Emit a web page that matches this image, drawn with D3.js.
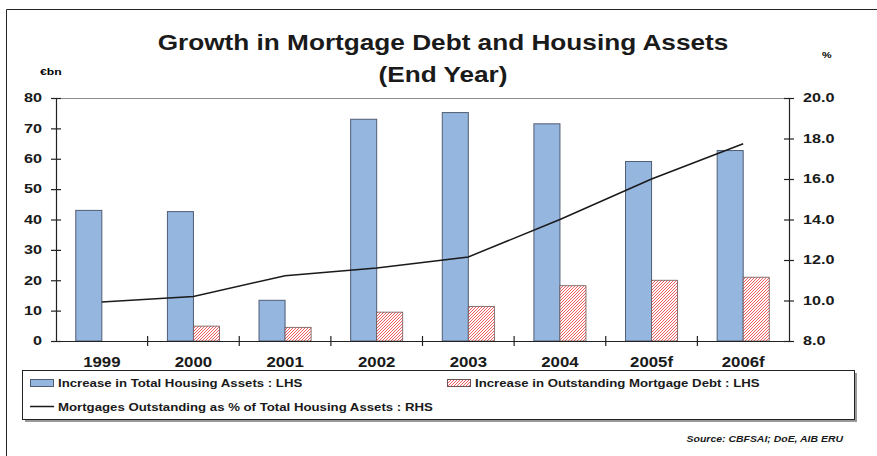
<!DOCTYPE html>
<html>
<head>
<meta charset="utf-8">
<script src="https://cdn.jsdelivr.net/npm/d3@7"></script>
<style>
  body { margin: 0; background: #fff; }
  svg { font-family: "Liberation Sans", Arial, sans-serif; font-weight: bold; }
</style>
</head>
<body>
<svg id="chart" width="877" height="456"></svg>
<script>
// chart data
var years = ['1999', '2000', '2001', '2002', '2003', '2004', '2005f', '2006f'];
var housingAssets = [43.0, 42.6, 13.4, 73.0, 75.2, 71.5, 59.1, 62.7];
var mortgageDebt = [null, 4.9, 4.5, 9.5, 11.4, 18.2, 20.0, 21.0];
var mortgageShare = [9.93, 10.2, 11.22, 11.6, 12.15, 14.0, 16.0, 17.74];
var leftTicks = [0, 10, 20, 30, 40, 50, 60, 70, 80];
var rightTicks = [8, 10, 12, 14, 16, 18, 20];

// layout
var plot = {left: 56, right: 789, top: 98, bottom: 341};

var svg = d3.select('#chart');

// stretch text horizontally like the original image
function stretch(sel, k) {
  sel.each(function() {
    var w = this.getComputedTextLength();
    this.setAttribute('textLength', w * k);
    this.setAttribute('lengthAdjust', 'spacingAndGlyphs');
  });
}

// hatch pattern for the mortgage debt bars
var defs = svg.append('defs');
var pat = defs.append('pattern')
  .attr('id', 'hatch')
  .attr('patternUnits', 'userSpaceOnUse')
  .attr('width', 3)
  .attr('height', 3);
pat.append('rect').attr('width', 3).attr('height', 3).attr('fill', '#fff');
pat.append('path')
  .attr('d', 'M-1,1 l2,-2 M0,3 l3,-3 M2,4 l2,-2')
  .attr('stroke', '#ef4a4a')
  .attr('stroke-width', 0.9);

// outer frame (cut off at right and bottom)
svg.append('path')
  .attr('d', 'M6.5,460 V9.5 H880')
  .attr('fill', 'none')
  .attr('stroke', '#222')
  .attr('stroke-width', 1);

// scales
var x = d3.scaleBand().domain(years).range([plot.left, plot.right]);
var sub = d3.scaleBand().domain(['assets', 'debt']).range([0, x.bandwidth()]).paddingOuter(0.76);
var y = d3.scaleLinear().domain([0, 80]).range([plot.bottom, plot.top]);
var y2 = d3.scaleLinear().domain([8, 20]).range([plot.bottom, plot.top]);

// title
svg.append('text')
  .attr('x', 443).attr('y', 50)
  .attr('text-anchor', 'middle')
  .style('font-size', '22px')
  .style('fill', '#1a1a1a')
  .text('Growth in Mortgage Debt and Housing Assets')
  .call(stretch, 1.19);
svg.append('text')
  .attr('x', 443).attr('y', 82)
  .attr('text-anchor', 'middle')
  .style('font-size', '22px')
  .style('fill', '#1a1a1a')
  .text('(End Year)')
  .call(stretch, 1.19);

// unit labels
svg.append('text')
  .attr('x', 40).attr('y', 75)
  .style('font-size', '9px')
  .text('€bn')
  .call(stretch, 1.35);
svg.append('text')
  .attr('x', 822).attr('y', 58)
  .style('font-size', '9px')
  .text('%')
  .call(stretch, 1.2);

// top border of plot area
svg.append('line')
  .attr('x1', plot.left).attr('x2', plot.right)
  .attr('y1', plot.top + 0.5).attr('y2', plot.top + 0.5)
  .attr('stroke', '#8c8c8c');

// bars: increase in total housing assets
svg.append('g').selectAll('rect')
  .data(years)
  .enter()
  .append('rect')
    .attr('x', function(d) { return x(d) + sub('assets'); })
    .attr('y', function(d, i) { return y(housingAssets[i]); })
    .attr('width', sub.bandwidth())
    .attr('height', function(d, i) { return y(0) - y(housingAssets[i]); })
    .attr('fill', '#95b6df')
    .attr('stroke', '#4f5d74')
    .attr('stroke-width', 1);

// bars: increase in mortgage debt
svg.append('g').selectAll('rect')
  .data(years.filter(function(d, i) { return mortgageDebt[i] != null; }))
  .enter()
  .append('rect')
    .attr('x', function(d) { return x(d) + sub('debt'); })
    .attr('y', function(d) { return y(mortgageDebt[years.indexOf(d)]); })
    .attr('width', sub.bandwidth())
    .attr('height', function(d) { return y(0) - y(mortgageDebt[years.indexOf(d)]); })
    .attr('fill', 'url(#hatch)')
    .attr('stroke', '#6b5555')
    .attr('stroke-width', 0.8);

// axes
var left = svg.append('g')
  .attr('transform', 'translate(' + plot.left + ',0)')
  .call(d3.axisLeft(y).tickValues(leftTicks).tickSize(5).tickPadding(9).tickFormat(d3.format('d')));
var right = svg.append('g')
  .attr('transform', 'translate(' + plot.right + ',0)')
  .call(d3.axisRight(y2).tickValues(rightTicks).tickSize(5).tickPadding(9).tickFormat(d3.format('.1f')));
var bottom = svg.append('g')
  .attr('transform', 'translate(0,' + plot.bottom + ')')
  .call(d3.axisBottom(x).tickSize(0).tickPadding(16));

[left, right, bottom].forEach(function(g) {
  g.select('.domain').attr('stroke', '#222').attr('stroke-width', 1.2);
  g.selectAll('.tick line').attr('stroke', '#222').attr('stroke-width', 1.2);
  g.selectAll('text').attr('fill', '#1a1a1a').style('font-family', null);
});
left.selectAll('.tick line').attr('x2', 5).attr('x1', -5);
right.selectAll('.tick line').attr('x1', -5).attr('x2', 5);
left.selectAll('text').style('font-size', '12px').call(stretch, 1.35);
right.selectAll('text').style('font-size', '12px').call(stretch, 1.35);
bottom.selectAll('text').style('font-size', '14px').call(stretch, 1.2);

// category boundary ticks on x axis
svg.append('g').selectAll('line')
  .data(years.slice(1))
  .enter()
  .append('line')
    .attr('x1', function(d) { return x(d); })
    .attr('x2', function(d) { return x(d); })
    .attr('y1', plot.bottom - 5)
    .attr('y2', plot.bottom + 5)
    .attr('stroke', '#222')
    .attr('stroke-width', 1.2);

// line: mortgages outstanding as % of housing assets
var line = d3.line()
  .x(function(d, i) { return x(years[i]) + x.bandwidth() / 2; })
  .y(function(d) { return y2(d); });
svg.append('path')
  .datum(mortgageShare)
  .attr('d', line)
  .attr('fill', 'none')
  .attr('stroke', '#1a1a1a')
  .attr('stroke-width', 1.5);

// legend
var legend = svg.append('g');
legend.append('rect')
  .attr('x', 25).attr('y', 373)
  .attr('width', 832).attr('height', 49)
  .attr('fill', '#999');
legend.append('rect')
  .attr('x', 22.5).attr('y', 370.5)
  .attr('width', 832).attr('height', 49)
  .attr('fill', '#fff')
  .attr('stroke', '#222');

legend.append('rect')
  .attr('x', 30.5).attr('y', 379.5)
  .attr('width', 23).attr('height', 7)
  .attr('fill', '#95b6df')
  .attr('stroke', '#4f5d74');
legend.append('text')
  .attr('x', 58).attr('y', 387)
  .style('font-size', '11px')
  .style('fill', '#1a1a1a')
  .text('Increase in Total Housing Assets : LHS')
  .call(stretch, 1.2);

legend.append('rect')
  .attr('x', 447.5).attr('y', 379.5)
  .attr('width', 23).attr('height', 7)
  .attr('fill', 'url(#hatch)')
  .attr('stroke', '#6b5555');
legend.append('text')
  .attr('x', 475).attr('y', 387)
  .style('font-size', '11px')
  .style('fill', '#1a1a1a')
  .text('Increase in Outstanding Mortgage Debt : LHS')
  .call(stretch, 1.2);

legend.append('line')
  .attr('x1', 30).attr('x2', 54)
  .attr('y1', 406.5).attr('y2', 406.5)
  .attr('stroke', '#1a1a1a')
  .attr('stroke-width', 1.5);
legend.append('text')
  .attr('x', 58).attr('y', 411)
  .style('font-size', '11px')
  .style('fill', '#1a1a1a')
  .text('Mortgages Outstanding as % of Total Housing Assets : RHS')
  .call(stretch, 1.2);

// source
svg.append('text')
  .attr('x', 843).attr('y', 442)
  .attr('text-anchor', 'end')
  .style('font-size', '9.5px')
  .style('font-style', 'italic')
  .style('fill', '#1a1a1a')
  .text('Source: CBFSAI; DoE, AIB ERU')
  .call(stretch, 1.1);
</script>
</body>
</html>
